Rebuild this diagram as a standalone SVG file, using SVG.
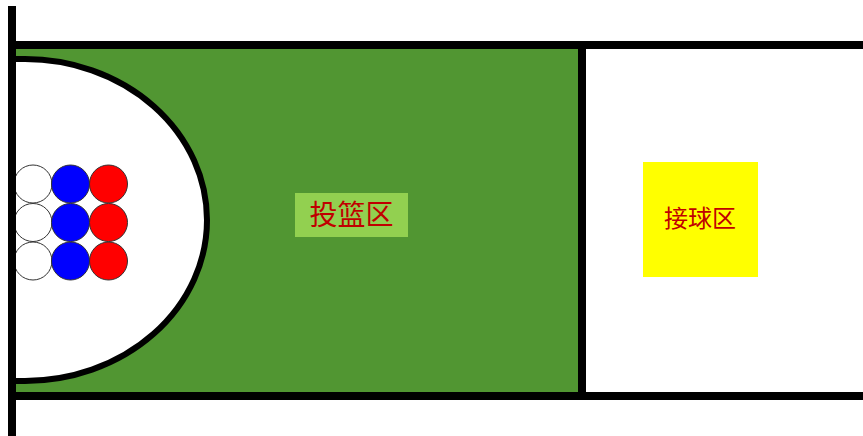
<svg xmlns="http://www.w3.org/2000/svg" width="863" height="436" viewBox="0 0 863 436">
  <style>
    .line { stroke: #000; stroke-width: 8; fill: none; }
    .ball { stroke: #333; stroke-width: 1; }
    .label { font-family: "Noto Sans CJK SC", "Noto Sans", sans-serif; fill: #c00000; text-anchor: middle; }
  </style>
  <rect x="0" y="0" width="863" height="436" fill="#fff"/>
  <g id="shooting-zone">
    <rect x="16" y="49" width="562" height="343" fill="#519632"/>
  </g>
  <g id="semicircle">
    <path d="M12,59 L25,59 A182,161 0 0 1 25,381 L12,381 Z" fill="#fff" stroke="#000" stroke-width="6"/>
  </g>
  <g id="balls">
    <circle class="ball" cx="33" cy="184" r="19" fill="#fff"/>
    <circle class="ball" cx="33" cy="222.5" r="19" fill="#fff"/>
    <circle class="ball" cx="33" cy="261" r="19" fill="#fff"/>
    <circle class="ball" cx="70.5" cy="184" r="19" fill="#0000ff"/>
    <circle class="ball" cx="70.5" cy="222.5" r="19" fill="#0000ff"/>
    <circle class="ball" cx="70.5" cy="261" r="19" fill="#0000ff"/>
    <circle class="ball" cx="108.5" cy="184" r="19" fill="#ff0000"/>
    <circle class="ball" cx="108.5" cy="222.5" r="19" fill="#ff0000"/>
    <circle class="ball" cx="108.5" cy="261" r="19" fill="#ff0000"/>
  </g>
  <g id="connectors">
    <line class="line" x1="8" y1="45" x2="863" y2="45"/>
    <line class="line" x1="8" y1="396" x2="863" y2="396"/>
    <line class="line" x1="582" y1="41" x2="582" y2="400"/>
    <line class="line" x1="12" y1="6" x2="12" y2="436"/>
  </g>
  <g id="shooting-label">
    <rect x="295" y="193" width="113" height="44" fill="#92d050"/>
    <text class="label" x="351.5" y="225" font-size="28">投篮区</text>
  </g>
  <g id="catch-zone">
    <rect x="643" y="162" width="115" height="115" fill="#ffff00"/>
    <text class="label" x="700" y="227" font-size="24">接球区</text>
  </g>
</svg>
